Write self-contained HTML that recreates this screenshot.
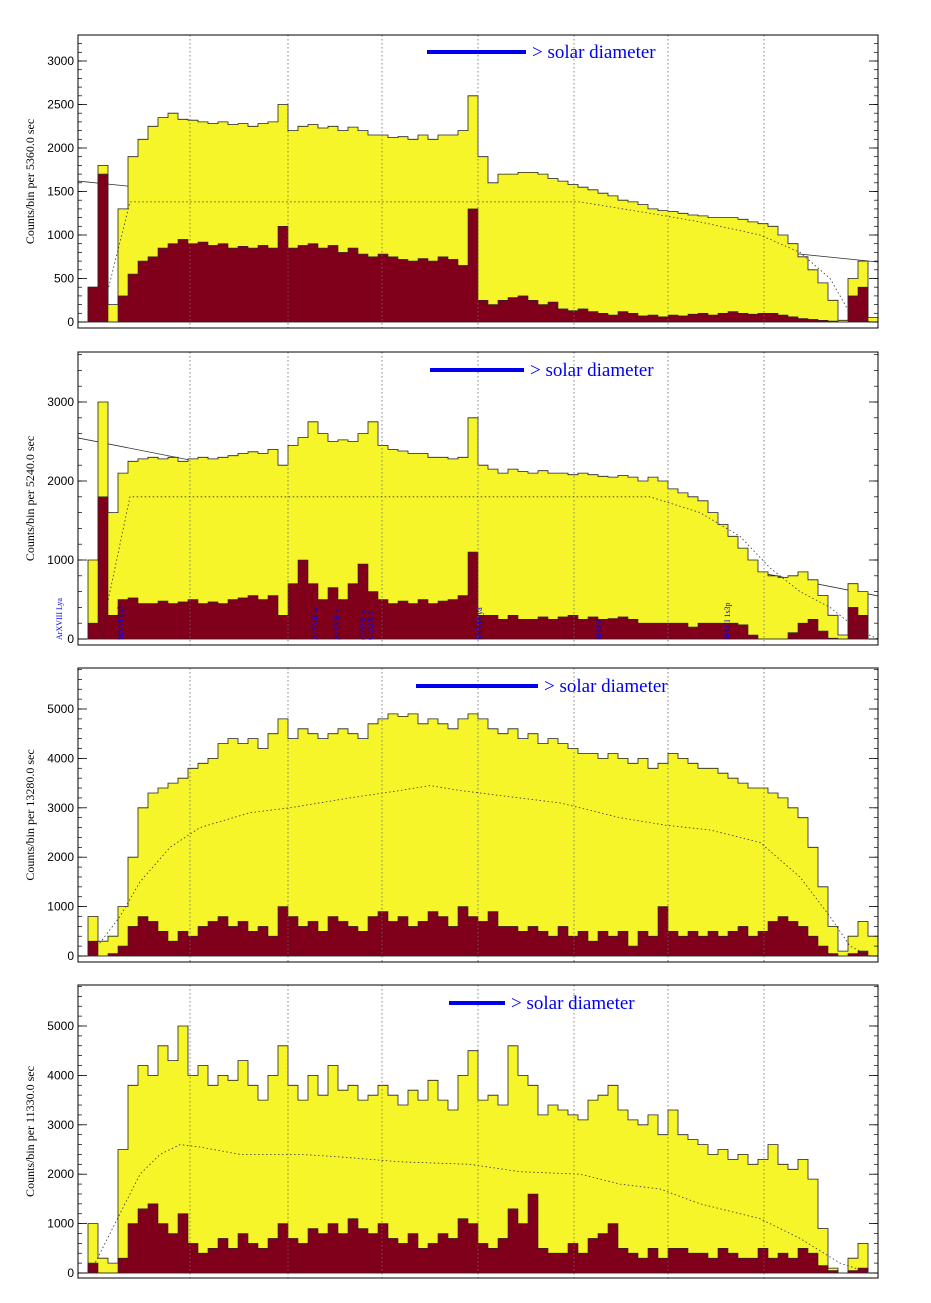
<!DOCTYPE html>
<html><head><meta charset="utf-8">
<style>
body{margin:0;background:#fff;width:931px;height:1303px;overflow:hidden}
svg{display:block}
</style></head>
<body>
<svg id="chart" width="931" height="1303" xmlns="http://www.w3.org/2000/svg"></svg>
<script>
// ---- data (80 bins per panel, counts) ----
const p1Yellow=[0,400,1800,200,1300,1900,2100,2250,2350,2400,2330,2320,2300,2280,2300,2270,2280,2250,2280,2300,2500,2200,2250,2270,2230,2250,2200,2240,2200,2150,2150,2120,2130,2100,2150,2100,2150,2150,2200,2600,1900,1600,1700,1700,1720,1720,1700,1650,1620,1580,1550,1520,1480,1450,1400,1380,1350,1300,1280,1270,1250,1230,1220,1200,1200,1200,1180,1150,1130,1100,1000,900,750,600,450,250,20,500,700,50];
const p1Red=[0,400,1700,0,300,550,700,750,850,900,950,900,920,880,900,850,870,850,880,850,1100,850,880,900,850,880,800,850,780,750,780,750,720,700,730,700,750,720,650,1300,250,200,250,280,300,250,200,230,150,130,150,120,100,80,120,100,70,80,60,80,70,90,100,80,100,120,100,90,100,100,80,60,40,30,20,10,0,300,400,0];
const p2Yellow=[0,1000,3000,1600,2100,2250,2280,2300,2280,2300,2250,2280,2300,2280,2300,2320,2350,2370,2350,2400,2200,2450,2550,2750,2600,2500,2520,2500,2600,2750,2450,2400,2380,2350,2350,2300,2300,2280,2300,2800,2200,2150,2100,2150,2120,2100,2130,2100,2100,2080,2100,2080,2060,2050,2070,2050,2000,2050,2000,1900,1850,1800,1750,1600,1450,1300,1150,1000,850,800,780,800,850,750,550,300,50,700,600,0];
const p2Red=[0,200,1800,300,500,520,450,450,480,450,470,500,450,470,450,500,520,550,500,550,300,700,1000,700,500,650,500,700,950,600,500,450,480,450,500,450,480,500,550,1100,300,300,250,300,250,250,280,250,280,300,250,280,250,260,280,250,200,200,200,200,200,150,200,200,200,200,180,50,0,0,0,80,200,250,100,10,0,400,300,0];
const p3Yellow=[0,800,300,400,1000,2000,3000,3300,3400,3500,3600,3800,3900,4000,4300,4400,4300,4400,4200,4500,4800,4400,4600,4500,4400,4500,4600,4500,4400,4700,4800,4900,4850,4900,4700,4800,4700,4600,4800,4900,4800,4600,4500,4600,4400,4500,4300,4400,4300,4200,4100,4100,4000,4100,4000,3900,4000,3800,3900,4100,4000,3900,3800,3800,3700,3600,3500,3400,3400,3300,3200,3000,2800,2200,1400,600,100,400,700,400];
const p3Red=[0,300,0,50,200,600,800,700,500,300,500,400,600,700,800,600,700,500,600,400,1000,800,600,700,500,800,700,600,500,800,900,700,800,600,700,900,800,600,1000,800,700,900,600,600,500,600,500,400,600,400,500,300,500,400,500,200,500,400,1000,500,400,500,400,500,400,500,600,400,500,700,800,700,600,400,200,50,0,50,100,0];
const p4Yellow=[0,1000,300,200,2500,3800,4200,4000,4600,4300,5000,4000,4200,3800,4000,3900,4300,3800,3500,4000,4600,3800,3500,4000,3600,4200,3700,3800,3500,3600,3800,3600,3400,3700,3500,3900,3500,3300,4000,4500,3500,3600,3400,4600,4000,3800,3200,3400,3300,3200,3100,3500,3600,3800,3300,3100,3000,3200,2800,3300,2800,2700,2600,2400,2500,2300,2400,2200,2300,2600,2200,2100,2300,1900,900,100,0,300,600,0];
const p4Red=[0,200,0,0,300,1000,1300,1400,1000,800,1200,600,400,500,700,500,800,600,500,700,1000,700,600,900,800,1000,800,1100,900,800,1000,700,600,800,500,600,800,700,1100,1000,600,500,700,1300,1000,1600,500,400,400,600,400,700,800,1000,500,400,300,500,300,500,500,400,400,300,500,400,300,300,500,300,400,300,500,400,150,50,0,50,100,0];
const p1DotX=[100,130,580,650,700,760,800,830,850,870];
const p1DotY=[0,1380,1380,1250,1150,1000,800,500,100,0];
const p2DotX=[100,130,650,700,740,770,800,830,860,878];
const p2DotY=[0,1800,1800,1600,1300,900,600,400,100,0];
const p3DotX=[90,120,140,170,200,250,290,350,400,430,460,500,560,620,665,710,760,800,830,850,870];
const p3DotY=[0,800,1500,2200,2600,2900,3000,3200,3350,3450,3350,3250,3100,2800,2650,2550,2300,1600,800,200,0];
const p4DotX=[90,120,140,160,180,200,240,300,340,400,470,520,580,620,660,700,760,800,840,870];
const p4DotY=[0,1200,2000,2400,2600,2550,2400,2400,2350,2250,2200,2050,2000,1800,1700,1400,1100,700,200,0];
const yTicks1=[0,500,1000,1500,2000,2500,3000];
const yTicks2=[0,1000,2000,3000];
const yTicks3=[0,1000,2000,3000,4000,5000];
const exposures=["5360.0","5240.0","13280.0","11330.0"];

const NS="http://www.w3.org/2000/svg";
const svg=document.getElementById('chart');
function mk(tag,attrs,parent){const e=document.createElementNS(NS,tag);for(const k in attrs)e.setAttribute(k,attrs[k]);(parent||svg).appendChild(e);return e;}

const X0=78,X1=878;
const panels=[
 {top:35,bot:328,zero:322,scale:0.087,yel:p1Yellow,red:p1Red,dx:p1DotX,dy:p1DotY,ticks:yTicks1,minor:100,line:[1620,690],bar:[427,526,52],exp:exposures[0]},
 {top:352,bot:645,zero:639,scale:0.079,yel:p2Yellow,red:p2Red,dx:p2DotX,dy:p2DotY,ticks:yTicks2,minor:200,line:[2545,545],bar:[430,524,370],exp:exposures[1]},
 {top:668,bot:962,zero:956,scale:0.0494,yel:p3Yellow,red:p3Red,dx:p3DotX,dy:p3DotY,ticks:yTicks3,minor:200,line:null,bar:[416,538,686],exp:exposures[2]},
 {top:985,bot:1278,zero:1273,scale:0.0494,yel:p4Yellow,red:p4Red,dx:p4DotX,dy:p4DotY,ticks:yTicks3,minor:200,line:null,bar:[449,505,1003],exp:exposures[3]}
];
const gridX=[190,288,382,478,574,668,764];

panels.forEach((p,pi)=>{
  const g=mk('g',{});
  
  
  const yS=v=>Math.max(p.top,p.zero-v*p.scale);
  const bw=(X1-X0)/p.yel.length;
  if(p.line){
    const ln=mk('line',{x1:X0,y1:yS(p.line[0]),x2:X1,y2:yS(p.line[1]),stroke:'#333','stroke-width':0.8},g);
    
    
  }
  function stepPath(arr){
    let d='M'+X0+','+p.zero;
    arr.forEach((v,i)=>{const x=X0+i*bw;d+=' L'+x.toFixed(1)+','+yS(v).toFixed(1)+' L'+(x+bw).toFixed(1)+','+yS(v).toFixed(1);});
    d+=' L'+X1+','+p.zero+' Z';return d;
  }
  const yel=mk('path',{d:stepPath(p.yel),fill:'#f5f52a',stroke:'#222','stroke-width':0.8},g);
  
  
  const red=mk('path',{d:stepPath(p.red),fill:'#80001c',stroke:'#222','stroke-width':0.6},g);
  
  
  let dd='';p.dx.forEach((x,i)=>{dd+=(i?' L':'M')+x+','+yS(p.dy[i]).toFixed(1);});
  const dot=mk('path',{d:dd,fill:'none',stroke:'#333','stroke-width':0.8,'stroke-dasharray':'1.5,2.5'},g);
  
  
  gridX.forEach(x=>{
    const gl=mk('line',{x1:x,y1:p.top,x2:x,y2:p.bot,stroke:'#666','stroke-width':0.8,'stroke-dasharray':'1.5,2.5'},g);
    
    
  });
  const fr=mk('rect',{x:X0,y:p.top,width:X1-X0,height:p.bot-p.top,fill:'none',stroke:'#000','stroke-width':1},g);
  
  
  for(let v=0;p.zero-v*p.scale>p.top;v+=p.minor){
    const y=p.zero-v*p.scale;
    mk('line',{x1:X0,y1:y,x2:X0+4,y2:y,stroke:'#000','stroke-width':0.7},g);
    mk('line',{x1:X1,y1:y,x2:X1-4,y2:y,stroke:'#000','stroke-width':0.7},g);
  }
  p.ticks.forEach(v=>{
    const y=p.zero-v*p.scale;
    mk('line',{x1:X0,y1:y,x2:X0+9,y2:y,stroke:'#000','stroke-width':0.8},g);
    mk('line',{x1:X1,y1:y,x2:X1-9,y2:y,stroke:'#000','stroke-width':0.8},g);
    const t=mk('text',{x:X0-4,y:y+4,'text-anchor':'end','font-family':'Liberation Sans, sans-serif','font-size':12},g);
    
    
    t.textContent=v;
  });
  const cy=(p.top+p.bot)/2;
  const yt=mk('text',{x:34,y:cy,transform:'rotate(-90 34 '+cy+')','text-anchor':'middle','font-family':'Liberation Serif, serif','font-size':12},g);
  
  
  yt.textContent='Counts/bin per  '+p.exp+' sec';
  const b=mk('line',{x1:p.bar[0],y1:p.bar[2],x2:p.bar[1],y2:p.bar[2],stroke:'#0000ee','stroke-width':4},g);
  
  
  const bt=mk('text',{x:p.bar[1]+6,y:p.bar[2]+6,'font-family':'Liberation Serif, serif','font-size':19,fill:'#0000ee'},g);
  
  
  bt.textContent='> solar diameter';
});

const lineLabels=["ArXVIII Lya","SiXVI Lyb","ArXVII w","ArXVII x","CaXIX w","CaXIX z","SXVI Lya","SiXIV","SiXIII 1s3p"];
const lineLabelX=[62,123,318,340,366,373,482,602,730];
lineLabels.forEach((s,i)=>{
  const x=lineLabelX[i],y=640;
  const t=mk('text',{x:x,y:y,transform:'rotate(-90 '+x+' '+y+')','font-family':'Liberation Serif, serif','font-size':8,fill:'#0000ee'});
  
  
  t.textContent=s;
});
</script>
</body></html>
